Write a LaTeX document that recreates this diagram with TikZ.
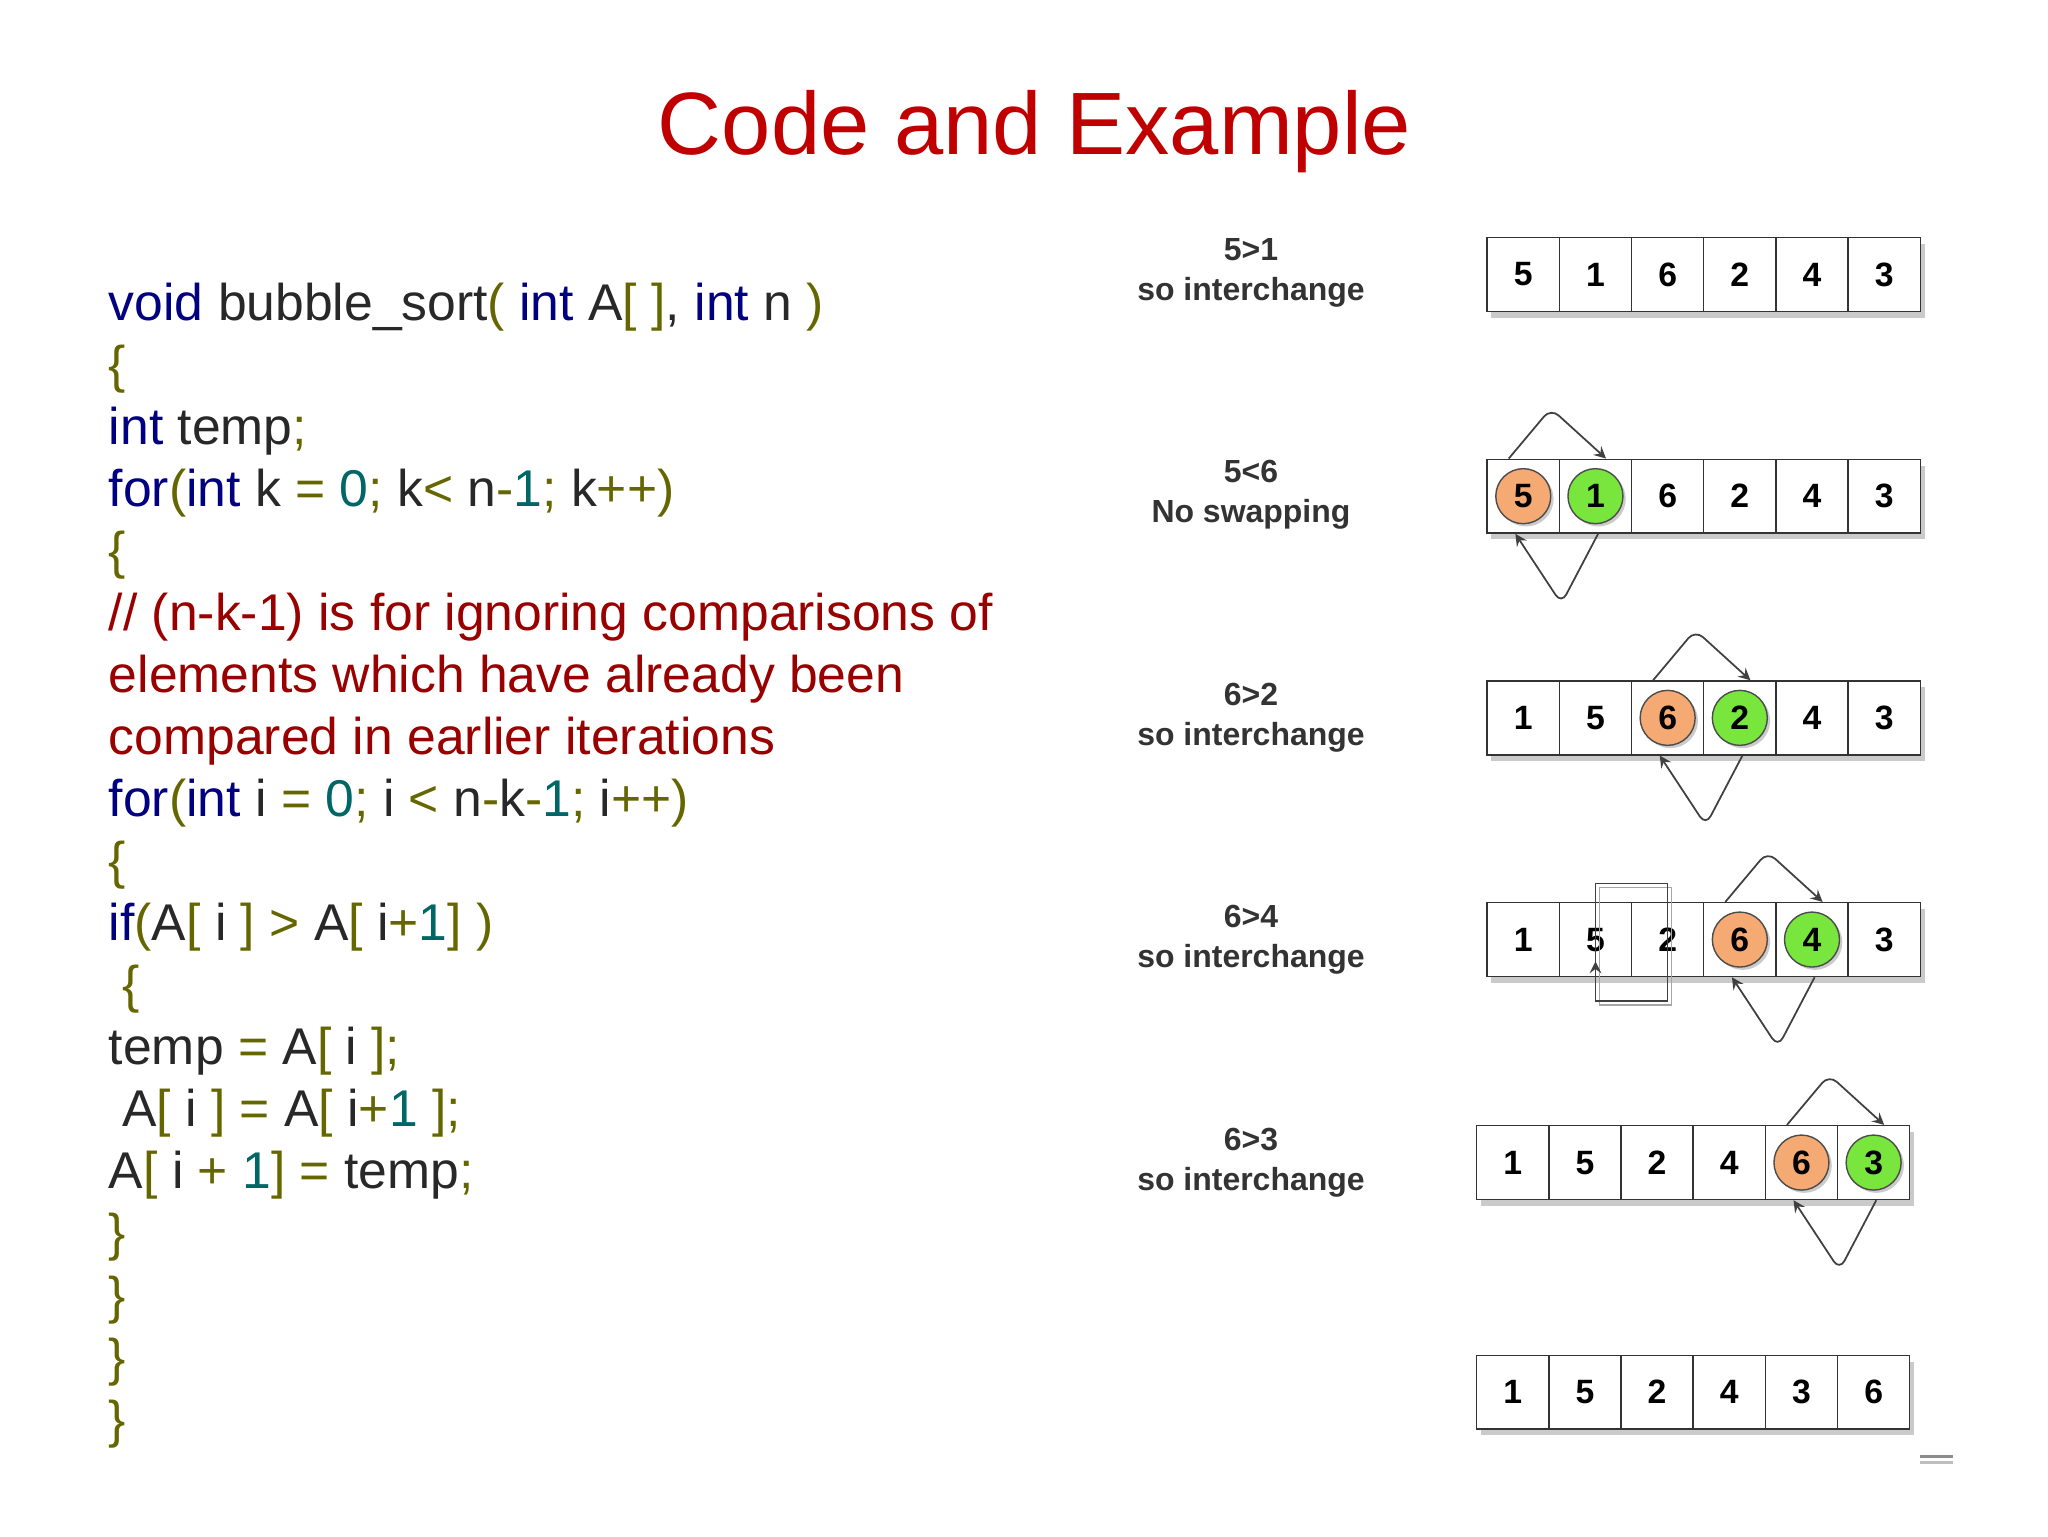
\documentclass[tikz,border=0pt]{standalone}
\usepackage{fontspec}
\setmainfont{Liberation Sans}
\usetikzlibrary{calc,shadows}
\definecolor{titlered}{RGB}{192,0,0}
\definecolor{kwblue}{RGB}{0,0,128}
\definecolor{opolive}{RGB}{102,102,0}
\definecolor{numteal}{RGB}{0,102,102}
\definecolor{idgray}{RGB}{40,40,40}
\definecolor{cmtred}{RGB}{153,0,0}
\definecolor{ballorange}{RGB}{246,170,115}
\definecolor{ballgreen}{RGB}{120,230,60}
\newcommand{\kw}[1]{\textcolor{kwblue}{#1}}
\newcommand{\op}[1]{\textcolor{opolive}{#1}}
\newcommand{\nm}[1]{\textcolor{numteal}{#1}}
\tikzset{
  code/.style={anchor=base west,inner sep=0pt,text=idgray,font=\fontsize{14.7}{17}\selectfont},
  cmt/.style={code,text=cmtred},
  cell/.style={draw=black!80,fill=white,minimum width=0.722cm,minimum height=0.739cm,inner sep=0pt,
    font=\bfseries\fontsize{9.6}{11}\selectfont,drop shadow={shadow xshift=1.2pt,shadow yshift=-1.8pt,fill=black!35,opacity=0.6}},
  ball/.style={circle,draw=black!70,fill=#1,minimum size=0.55cm,inner sep=0pt,
    font=\bfseries\fontsize{9.6}{11}\selectfont,drop shadow={shadow xshift=0.8pt,shadow yshift=-0.8pt,fill=black!40}},
  steplabel/.style={align=center,font=\bfseries\fontsize{9.1}{11.3}\selectfont,text=black!80},
  swap/.style={->,>=stealth,black!75,line width=0.5pt,rounded corners=3pt}
}
\begin{document}
\begin{tikzpicture}[x=0.013196cm,y=-0.013196cm]
\useasboundingbox (0,0) rectangle (1552,1164);
\node[text=titlered,font=\fontsize{25.2}{29}\selectfont] (title) at (784,100) {Code and Example};
% code listing
\node[code] (l1) at (82,243) {\kw{void} bubble\_sort\op{(} \kw{int} A\op{[ ]}, \kw{int} n \op{)}};
\node[code] (l2) at (82,290) {\op{\{}};
\node[code] (l3) at (82,337) {\kw{int} temp\op{;}};
\node[code] (l4) at (82,384) {\kw{for}\op{(}\kw{int} k \op{=} \nm{0}\op{;} k\op{<} n\op{-}\nm{1}\op{;} k\op{++)}};
\node[code] (l5) at (82,431) {\op{\{}};
\node[cmt] (l6) at (82,478) {// (n-k-1) is for ignoring comparisons of};
\node[cmt] (l7) at (82,525) {elements which have already been};
\node[cmt] (l8) at (82,572) {compared in earlier iterations};
\node[code] (l9) at (82,619) {\kw{for}\op{(}\kw{int} i \op{=} \nm{0}\op{;} i \op{<} n\op{-}k\op{-}\nm{1}\op{;} i\op{++)}};
\node[code] (l10) at (82,666) {\op{\{}};
\node[code] (l11) at (82,713) {\kw{if}\op{(}A\op{[} i \op{]} \op{>} A\op{[} i\op{+}\nm{1}\op{]} \op{)}};
\node[code] (l12) at (92,760) {\op{\{}};
\node[code] (l13) at (82,807) {temp \op{=} A\op{[} i \op{];}};
\node[code] (l14) at (92,854) {A\op{[} i \op{]} \op{=} A\op{[} i\op{+}\nm{1} \op{];}};
\node[code] (l15) at (82,901) {A\op{[} i \op{+} \nm{1}\op{]} \op{=} temp\op{;}};
\foreach \k/\y in {16/948,17/995,18/1042,19/1089}
  \node[code] (l\k) at (82,\y) {\op{\}}};
% step labels
\node[steplabel] (s1) at (948,207) {5>1\\so interchange};
\node[steplabel] (s2) at (948,375) {5<6\\No swapping};
\node[steplabel] (s3) at (948,544) {6>2\\so interchange};
\node[steplabel] (s4) at (948,712) {6>4\\so interchange};
\node[steplabel] (s5) at (948,881) {6>3\\so interchange};
% arrays
\foreach \r/\x/\y/\vals in {1/1127/208/{5,1,6,2,4,3},2/1127/376/{5,1,6,2,4,3},3/1127/544/{1,5,6,2,4,3},
    4/1127/712/{1,5,2,6,4,3},5/1119/881/{1,5,2,4,6,3},6/1119/1055/{1,5,2,4,3,6}}
  \foreach \v [count=\c] in \vals
    \node[cell] (r\r-\c) at ({\x+(\c-0.5)*54.7},\y) {\v};
% compared pairs
\foreach \r/\a/\va/\b/\vb in {2/1/5/2/1,3/3/6/4/2,4/4/6/5/4,5/5/6/6/3}{
  \node[ball=ballorange] (o\r) at (r\r-\a) {\va};
  \node[ball=ballgreen] (g\r) at (r\r-\b) {\vb};
  \draw[swap] ($(r\r-\a.north)+(-11,0)$) -- ($(r\r-\a.north east)+(-7,-38)$) -- ($(r\r-\b.north)+(8,0)$);
  \draw[swap] ($(r\r-\b.south)+(2,0)$) -- ($(r\r-\a.south east)+(1,53)$) -- ($(r\r-\a.south)+(-6,0)$);
}
% extra frame in step 4
\draw[black!35] ($(r4-2.north)+(3,-11)$) rectangle ($(r4-3.south)+(3,21)$);
\draw[black!75] ($(r4-2.north)+(0,-14)$) rectangle ($(r4-3.south)+(0,18)$);
\draw[swap] ($(r4-2.south)+(0,18)$) -- ($(r4-2.south)+(0,-12)$);
% corner mark
\draw[black!45,line width=0.8pt] (1455,1104) -- (1480,1104);
\draw[black!25,line width=0.8pt] (1455,1108) -- (1480,1108);
\end{tikzpicture}
\end{document}
